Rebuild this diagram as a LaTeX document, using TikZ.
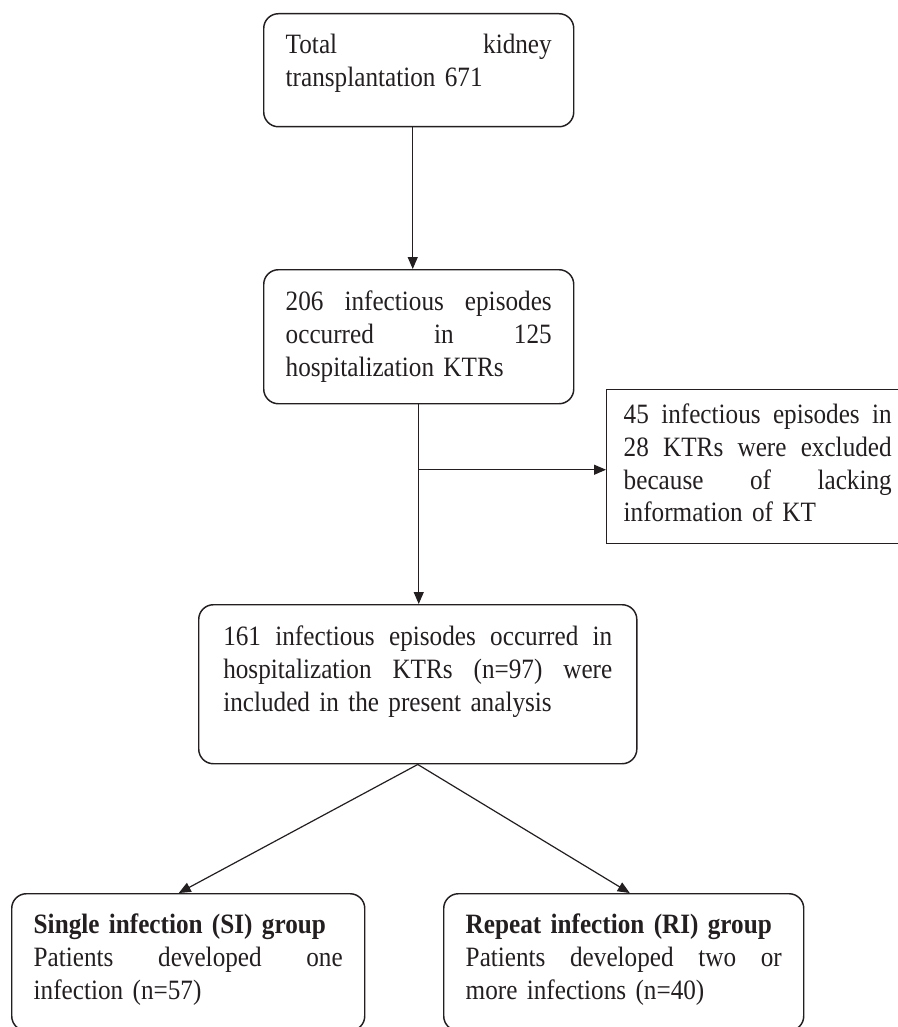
\documentclass[tikz,border=0pt]{standalone}
\usepackage{fontspec}
\setmainfont{Liberation Serif}[FakeStretch=0.9]
\usepackage{tikz}
\usetikzlibrary{arrows.meta}
\definecolor{ink}{HTML}{231F20}

\tikzset{
  flowbox/.style={draw=ink, text=ink, line width=1.1pt, rounded corners=11pt, anchor=north west, align=left, inner ysep=0pt, font=\fontsize{21pt}{24.5pt}\selectfont},
  sqbox/.style={flowbox, rounded corners=0pt},
  arr/.style={draw=ink, line width=0.9pt, -{Triangle[length=9pt,width=7.5pt]}}
}

\begin{document}
\begin{tikzpicture}[x=0.75pt,y=0.75pt,yscale=-1,xscale=1]
\useasboundingbox (0,0) rectangle (897,1027);

%Shape: Rounded Rect [id:total]
\node[flowbox, text width=199.5pt, inner xsep=16.5pt, text height=30pt, text depth=54.75pt] (total) at (263,13)
  {Total\hfill kidney\\transplantation 671};
%Shape: Rounded Rect [id:episodes]
\node[flowbox, text width=199.5pt, inner xsep=16.5pt, text height=30.75pt, text depth=69.75pt] (episodes) at (263,269)
  {206\hfill infectious\hfill episodes\\occurred\hfill in\hfill 125\\hospitalization KTRs};
%Shape: Rectangle [id:excluded]
\node[sqbox, text width=201pt, inner xsep=12.75pt, text height=25.5pt, text depth=90pt] (excluded) at (606,389)
  {45\hfill infectious\hfill episodes\hfill in\\28\hfill KTRs\hfill were\hfill excluded\\because\hfill of\hfill lacking\\information of KT};
%Shape: Rounded Rect [id:included]
\node[flowbox, text width=291.75pt, inner xsep=18.4pt, text height=30.75pt, text depth=88.5pt] (included) at (198,604)
  {161\hfill infectious\hfill episodes\hfill occurred\hfill in\\hospitalization\hfill KTRs\hfill (n=97)\hfill were\\included in the present analysis};
%Shape: Rounded Rect [id:singlegrp]
\node[flowbox, text width=231.75pt, inner xsep=16.5pt, text height=30pt, text depth=72.75pt] (singlegrp) at (11,893)
  {\textbf{Single infection (SI) group}\\Patients\hfill developed\hfill one\\infection (n=57)};
%Shape: Rounded Rect [id:repeatgrp]
\node[flowbox, text width=237pt, inner xsep=16.5pt, text height=30pt, text depth=72.75pt] (repeatgrp) at (443,893)
  {\textbf{Repeat infection (RI) group}\\Patients\hfill developed\hfill two\hfill or\\more infections (n=40)};

%Straight Lines
\draw[arr] ([xshift=-4.5pt]total.south) -- ([xshift=-4.5pt]total.south |- episodes.north);
\draw[arr] (episodes.south) -- (episodes.south |- included.north);
\coordinate (split) at ([yshift=2.25pt]episodes.south |- excluded.west);
\draw[arr] (split) -- (split -| excluded.west);
\draw[arr] (included.south) -- ([xshift=-7.1pt]singlegrp.north);
\draw[arr] (included.south) -- ([xshift=4.5pt]repeatgrp.north);

\end{tikzpicture}
\end{document}
